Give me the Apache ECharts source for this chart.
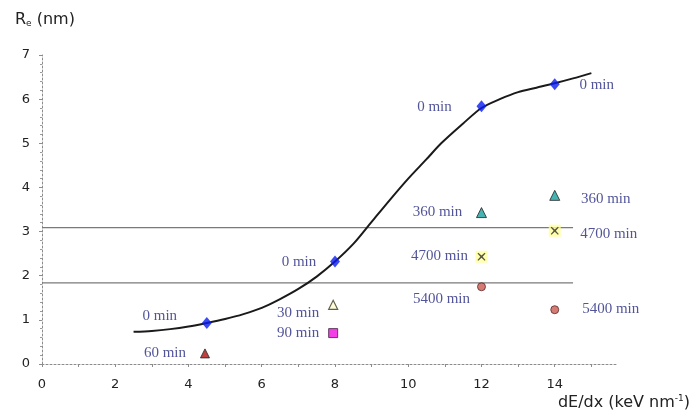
<!DOCTYPE html>
<html>
<head>
<meta charset="utf-8">
<script src="https://cdn.jsdelivr.net/npm/echarts@6/dist/echarts.min.js"></script>
<style>html,body{margin:0;padding:0;background:#fff}#c{width:691px;height:414px}</style>
</head>
<body>
<div id="c"></div>
<script>
// ---- data ----
const fitX = [2.5, 3, 3.5, 4, 4.5, 5, 5.5, 6, 6.5, 7, 7.5, 8, 8.5, 9, 9.5, 10, 10.5, 10.9, 11.5, 12, 12.5, 13, 13.5, 14, 14.5, 15];
const fitY = [0.73, 0.75, 0.79, 0.85, 0.93, 1.02, 1.13, 1.27, 1.47, 1.70, 1.98, 2.32, 2.72, 3.22, 3.72, 4.20, 4.64, 5.00, 5.45, 5.80, 6.00, 6.16, 6.26, 6.36, 6.47, 6.59];
const min0X = [4.5, 8, 12, 14];
const min0Y = [0.93, 2.32, 5.84, 6.34];
const min60 = [[4.45, 0.24]];
const min30 = [[7.95, 1.34]];
const min90 = [[7.95, 0.70]];
const min360 = [[12, 3.43], [14, 3.82]];
const min4700 = [[12, 2.43], [14, 3.02]];
const min5400 = [[12, 1.75], [14, 1.23]];
const refLineY = [3.09, 1.84];
const refLineXRange = [0, 14.5];
const xTicks = [0, 2, 4, 6, 8, 10, 12, 14];
const labelTexts = { m0: '0 min', m60: '60 min', m30: '30 min', m90: '90 min', m360: '360 min', m4700: '4700 min', m5400: '5400 min' };

// ---- styling ----
const labelColor = '#25297f';
const labelFont = { fontFamily: 'Liberation Serif', fontSize: 15, color: labelColor };
function withLabels(points, text, offsets) {
  return points.map((p, i) => ({
    value: p,
    label: Object.assign({ show: true, formatter: text, position: 'inside', offset: offsets[i] }, labelFont)
  }));
}
const xPath = 'path://M1,0 L5,3.6 L9,0 L10,1 L6.4,5 L10,9 L9,10 L5,6.4 L1,10 L0,9 L3.6,5 L0,1 Z';

const chart = echarts.init(document.getElementById('c'), null, { renderer: 'canvas' });
const axisLineStyle = { color: '#8c8c8c', width: 1, type: [2, 2] };
const axisFont = { fontFamily: 'DejaVu Sans', fontSize: 13, color: '#222' };
chart.setOption({
  animation: false,
  grid: { left: 42, right: 74, top: 55, bottom: 50 },
  xAxis: {
    type: 'value', min: 0, max: 15.7, interval: 1,
    axisLine: { show: true, onZero: false, lineStyle: axisLineStyle },
    axisTick: { show: true, length: 3, lineStyle: { color: '#8c8c8c' } },
    splitLine: { show: false },
    axisLabel: Object.assign({
      showMaxLabel: false, margin: 14,
      formatter: v => xTicks.indexOf(v) >= 0 ? String(v) : ''
    }, axisFont)
  },
  yAxis: {
    type: 'value', min: 0, max: 7, interval: 1,
    axisLine: { show: true, onZero: false, lineStyle: axisLineStyle },
    axisTick: { show: true, length: 3, lineStyle: { color: '#8c8c8c' } },
    minorTick: { show: true, splitNumber: 5, length: 2, lineStyle: { color: '#9a9a9a' } },
    splitLine: { show: false },
    axisLabel: Object.assign({ margin: 12 }, axisFont)
  },
  graphic: [
    {
      type: 'text', left: 15, top: 12,
      style: {
        text: '{a|R}{b|e}{a| (nm)}',
        rich: {
          a: { fontFamily: 'DejaVu Sans', fontSize: 16, fill: '#222' },
          b: { fontFamily: 'DejaVu Sans', fontSize: 9, fill: '#222', padding: [8, 0, 0, 0] }
        }
      }
    },
    {
      type: 'text', right: 1, top: 394,
      style: {
        text: '{a|dE/dx (keV nm}{s|-1}{a|)}',
        rich: {
          a: { fontFamily: 'DejaVu Sans', fontSize: 16, fill: '#222' },
          s: { fontFamily: 'DejaVu Sans', fontSize: 9, fill: '#222', padding: [0, 0, 8, 0] }
        }
      }
    }
  ],
  series: [
    ...refLineY.map(y => ({
      type: 'line', silent: true, symbol: 'none',
      data: [[refLineXRange[0], y], [refLineXRange[1], y]],
      lineStyle: { color: '#7a7a7a', width: 1.2 }, z: 1
    })),
    {
      type: 'line', silent: true, symbol: 'none', smooth: 0.3,
      data: fitX.map((x, i) => [x, fitY[i]]),
      lineStyle: { color: '#1a1a1a', width: 2 }, z: 2
    },
    {
      type: 'scatter', symbol: 'diamond', symbolSize: [10, 12],
      itemStyle: { color: '#0a1cf0' }, z: 5,
      data: withLabels(min0X.map((x, i) => [x, min0Y[i]]), labelTexts.m0, [[-47, -7], [-36, 0], [-47, 1], [42, 1]])
    },
    {
      type: 'scatter', symbol: 'triangle', symbolSize: 9,
      itemStyle: { color: '#b01010', borderColor: '#222', borderWidth: 1 }, z: 5,
      data: withLabels(min60, labelTexts.m60, [[-40, 0]])
    },
    {
      type: 'scatter', symbol: 'triangle', symbolSize: 9,
      itemStyle: { color: '#fffbd0', borderColor: '#3a3a20', borderWidth: 1.2 }, z: 5,
      data: withLabels(min30, labelTexts.m30, [[-35, 8]])
    },
    {
      type: 'scatter', symbol: 'rect', symbolSize: 9,
      itemStyle: { color: '#f010e0', borderColor: '#402040', borderWidth: 1 }, z: 5,
      data: withLabels(min90, labelTexts.m90, [[-35, 0]])
    },
    {
      type: 'scatter', symbol: 'triangle', symbolSize: 10,
      itemStyle: { color: '#1aa0a0', borderColor: '#222', borderWidth: 1 }, z: 5,
      data: withLabels(min360, labelTexts.m360, [[-44, -1], [51, 4]])
    },
    {
      type: 'scatter', symbol: 'rect', symbolSize: 12, silent: true,
      itemStyle: { color: '#ffff9a' }, z: 4,
      data: min4700
    },
    {
      type: 'scatter', symbol: xPath, symbolSize: 8,
      itemStyle: { color: '#2a2a2a' }, z: 5,
      data: withLabels(min4700, labelTexts.m4700, [[-42, -1], [54, 3]])
    },
    {
      type: 'scatter', symbol: 'circle', symbolSize: 8,
      itemStyle: { color: '#cc5a50', borderColor: '#5a2a2a', borderWidth: 1 }, z: 5,
      data: withLabels(min5400, labelTexts.m5400, [[-40, 12], [56, -1]])
    }
  ]
});
</script>
</body>
</html>
